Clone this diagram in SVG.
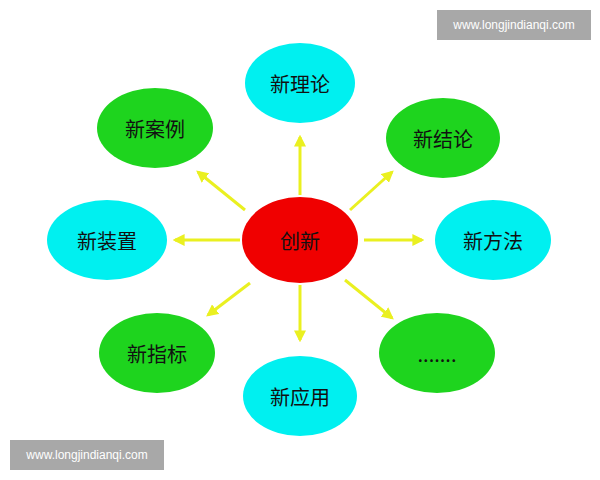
<svg xmlns="http://www.w3.org/2000/svg" width="600" height="480" viewBox="0 0 600 480">
<style>
.c{fill:#00f0f0}.g{fill:#1ed41e}.r{fill:#f00000}
text{font-family:"Noto Sans CJK SC","Noto Sans",sans-serif;font-size:20px;text-anchor:middle;dominant-baseline:central;fill:#111}
.w{font-family:"Liberation Sans",sans-serif;font-size:12px;fill:#fff}
.a{stroke:#eaf020;stroke-width:3;fill:none;marker-end:url(#ar)}
</style>
<defs><marker id="ar" viewBox="0 0 10 10" refX="8" refY="5" markerWidth="4" markerHeight="4" orient="auto"><path d="M0,0L10,5L0,10z" fill="#eaf020"/></marker></defs>
<rect width="600" height="480" fill="#fff"/>
<g id="connectors">
<line class="a" x1="300" y1="195" x2="300" y2="137"/>
<line class="a" x1="300" y1="285" x2="300" y2="340"/>
<line class="a" x1="240" y1="240" x2="175" y2="240"/>
<line class="a" x1="364" y1="240" x2="422" y2="240"/>
<line class="a" x1="245" y1="210" x2="198" y2="172"/>
<line class="a" x1="350" y1="210" x2="392" y2="172"/>
<line class="a" x1="250" y1="283" x2="208" y2="315"/>
<line class="a" x1="345" y1="280" x2="392" y2="318"/>
</g>
<g id="center"><ellipse class="r" cx="300" cy="240" rx="58" ry="43"/><text x="300" y="240" font-size="28">创新</text></g>
<g id="n1"><ellipse class="c" cx="300" cy="83" rx="55" ry="40"/><text x="300" y="83">新理论</text></g>
<g id="n2"><ellipse class="g" cx="155" cy="128" rx="58" ry="40"/><text x="155" y="128">新案例</text></g>
<g id="n3"><ellipse class="g" cx="443" cy="138" rx="57" ry="40"/><text x="443" y="138">新结论</text></g>
<g id="n4"><ellipse class="c" cx="107" cy="240" rx="60" ry="40"/><text x="107" y="240">新装置</text></g>
<g id="n5"><ellipse class="c" cx="493" cy="240" rx="58" ry="40"/><text x="493" y="240">新方法</text></g>
<g id="n6"><ellipse class="g" cx="157" cy="353" rx="58" ry="40"/><text x="157" y="353">新指标</text></g>
<g id="n7"><ellipse class="g" cx="437" cy="353" rx="58" ry="40"/><text x="437" y="353" font-size="14">.......</text></g>
<g id="n8"><ellipse class="c" cx="300" cy="396" rx="57" ry="40"/><text x="300" y="396">新应用</text></g>
<g id="wm1"><rect x="437" y="10" width="154" height="30" fill="#a8a8a8"/><text class="w" x="514" y="25">www.longjindianqi.com</text></g>
<g id="wm2"><rect x="10" y="440" width="154" height="30" fill="#a8a8a8"/><text class="w" x="87" y="455">www.longjindianqi.com</text></g>
</svg>
